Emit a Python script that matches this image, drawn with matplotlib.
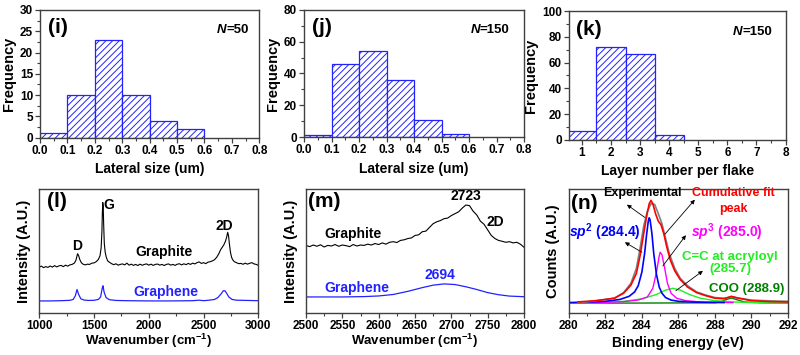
import matplotlib
matplotlib.use("Agg")
import matplotlib.pyplot as plt
from matplotlib.ticker import MultipleLocator

plt.rcParams['font.family'] = ['Liberation Sans', 'DejaVu Sans']
plt.rcParams['font.weight'] = 'bold'
plt.rcParams['hatch.linewidth'] = 0.7
plt.rcParams['mathtext.fontset'] = 'custom'
plt.rcParams['mathtext.it'] = 'Liberation Sans:italic:bold'
plt.rcParams['mathtext.rm'] = 'Liberation Sans:bold'
plt.rcParams['mathtext.bf'] = 'Liberation Sans:bold'
plt.rcParams['mathtext.default'] = 'rm'

# ---------------- data ----------------
# (i) lateral size, N=50
i_edges = [0.0, 0.1, 0.2, 0.3, 0.4, 0.5]
i_counts = [1, 10, 23, 10, 4, 2]
# (j) lateral size, N=150
j_edges = [0.0, 0.1, 0.2, 0.3, 0.4, 0.5]
j_counts = [1, 46, 54, 36, 11, 2]
# (k) layer number, N=150
k_layers = [1, 2, 3, 4]
k_counts = [7, 72, 67, 4]

# (l) Raman full range
l_graphite_x = [1000, 1020, 1040, 1060, 1080, 1100, 1120, 1140, 1160, 1180, 1200, 1220, 1240, 1260,
                1280, 1300, 1320, 1335, 1350, 1360, 1370, 1385, 1400, 1420, 1440, 1460, 1480, 1500,
                1520, 1540, 1555, 1565, 1572, 1576, 1580, 1584, 1588, 1594, 1602, 1612, 1625, 1640,
                1660, 1680, 1700, 1720, 1740, 1760, 1780, 1800, 1820, 1840, 1860, 1880, 1900, 1920,
                1940, 1960, 1980, 2000, 2020, 2040, 2060, 2080, 2100, 2120, 2140, 2160, 2180, 2200,
                2220, 2240, 2260, 2280, 2300, 2320, 2340, 2360, 2380, 2400, 2420, 2440, 2460, 2480,
                2500, 2520, 2540, 2560, 2580, 2600, 2620, 2640, 2655, 2670, 2685, 2700, 2710, 2720,
                2728, 2735, 2745, 2755, 2765, 2780, 2800, 2820, 2840, 2860, 2880, 2900, 2920, 2940,
                2960, 2980, 3000]
l_graphite_y = [0.370, 0.378, 0.366, 0.374, 0.368, 0.379, 0.370, 0.382, 0.372, 0.380, 0.384, 0.374, 0.386, 0.378,
                0.388, 0.392, 0.402, 0.425, 0.478, 0.462, 0.432, 0.405, 0.394, 0.388, 0.394, 0.392, 0.402, 0.404,
                0.414, 0.432, 0.462, 0.525, 0.650, 0.800, 0.890, 0.860, 0.720, 0.560, 0.490, 0.450, 0.420, 0.410,
                0.398, 0.390, 0.397, 0.386, 0.392, 0.396, 0.388, 0.402, 0.386, 0.394, 0.384, 0.392, 0.383, 0.394,
                0.385, 0.392, 0.396, 0.386, 0.394, 0.384, 0.392, 0.395, 0.386, 0.392, 0.383, 0.392, 0.396, 0.386,
                0.392, 0.384, 0.394, 0.397, 0.388, 0.397, 0.390, 0.400, 0.392, 0.402, 0.396, 0.406, 0.412, 0.400,
                0.406, 0.398, 0.410, 0.414, 0.420, 0.430, 0.450, 0.480, 0.510, 0.530, 0.550, 0.580, 0.610, 0.650,
                0.620, 0.560, 0.490, 0.450, 0.430, 0.414, 0.406, 0.398, 0.400, 0.393, 0.402, 0.394, 0.401, 0.406,
                0.396, 0.392, 0.384]
l_graphene_x = [1000, 1100, 1200, 1280, 1310, 1330, 1345, 1360, 1380, 1410, 1450, 1500, 1540, 1560,
                1575, 1582, 1592, 1610, 1640, 1700, 1800, 2000, 2200, 2400, 2460, 2500, 2560, 2600,
                2630, 2660, 2680, 2695, 2710, 2730, 2760, 2800, 2900, 3000]
l_graphene_y = [0.098, 0.098, 0.100, 0.103, 0.110, 0.140, 0.190, 0.150, 0.115, 0.105, 0.102, 0.103, 0.110, 0.130,
                0.200, 0.220, 0.170, 0.125, 0.108, 0.102, 0.100, 0.098, 0.098, 0.100, 0.104, 0.100, 0.105, 0.110,
                0.125, 0.155, 0.180, 0.180, 0.160, 0.130, 0.110, 0.104, 0.102, 0.100]

# (m) Raman 2D region
m_graphite_x = list(range(2500, 2801, 5))
m_graphite_y = [0.545, 0.535, 0.548, 0.538, 0.550, 0.532, 0.545, 0.540, 0.552, 0.538, 0.548, 0.543, 0.535,
                0.552, 0.540, 0.548, 0.545, 0.555, 0.548, 0.560, 0.552, 0.565, 0.555, 0.570, 0.575, 0.568,
                0.585, 0.590, 0.600, 0.605, 0.625, 0.630, 0.655, 0.660, 0.690, 0.720, 0.735, 0.745, 0.760,
                0.765, 0.785, 0.800, 0.815, 0.845, 0.870, 0.865, 0.820, 0.790, 0.740, 0.715, 0.670, 0.625,
                0.600, 0.585, 0.578, 0.570, 0.575, 0.565, 0.570, 0.555, 0.530]
m_graphene_x = [2500, 2550, 2580, 2600, 2620, 2640, 2660, 2675, 2690, 2705, 2720, 2735, 2750, 2765, 2780, 2800]
m_graphene_y = [0.130, 0.130, 0.133, 0.138, 0.150, 0.175, 0.205, 0.225, 0.235, 0.230, 0.212, 0.190, 0.165,
                0.148, 0.137, 0.132]

# (n) XPS C1s
n_exp_x = [280.5, 281.0, 281.5, 282.5, 283.0, 283.4, 283.7, 283.9, 284.1, 284.3, 284.5, 284.7, 284.9, 285.1,
           285.3, 285.5, 285.8, 286.1, 286.5, 287.0, 287.5, 288.0, 288.5, 288.9, 289.3, 290.0, 291.0, 292.0]
n_exp_y = [0.085, 0.090, 0.100, 0.120, 0.165, 0.240, 0.360, 0.520, 0.700, 0.820, 0.880, 0.875, 0.800, 0.720,
           0.600, 0.480, 0.360, 0.280, 0.220, 0.170, 0.145, 0.125, 0.120, 0.130, 0.120, 0.105, 0.098, 0.095]
n_fit_x = [280.5, 281.5, 282.5, 283.0, 283.4, 283.7, 283.9, 284.1, 284.25, 284.4, 284.5, 284.6, 284.75, 284.9,
           285.05, 285.2, 285.35, 285.55, 285.8, 286.1, 286.5, 287.0, 287.5, 288.0, 288.5, 288.9, 289.3,
           290.0, 291.0, 292.0]
n_fit_y = [0.090, 0.100, 0.120, 0.160, 0.225, 0.320, 0.460, 0.640, 0.770, 0.880, 0.907, 0.880, 0.800, 0.740,
           0.710, 0.640, 0.540, 0.430, 0.340, 0.270, 0.210, 0.165, 0.140, 0.120, 0.115, 0.135, 0.120,
           0.100, 0.093, 0.090]
n_sp2_x = [280.0, 281.0, 282.0, 282.8, 283.3, 283.6, 283.8, 284.0, 284.15, 284.25, 284.35, 284.4, 284.45,
           284.55, 284.65, 284.8, 284.95, 285.1, 285.3, 285.6, 286.0, 287.0, 288.0, 288.5]
n_sp2_y = [0.085, 0.088, 0.095, 0.110, 0.135, 0.170, 0.220, 0.330, 0.480, 0.620, 0.740, 0.767, 0.750,
           0.640, 0.480, 0.310, 0.210, 0.160, 0.125, 0.105, 0.095, 0.088, 0.086, 0.085]
n_sp3_x = [280.5, 282.0, 283.0, 283.8, 284.3, 284.6, 284.8, 284.95, 285.0, 285.1, 285.25, 285.4, 285.6,
           285.9, 286.4, 287.2, 288.0, 289.0]
n_sp3_y = [0.085, 0.087, 0.092, 0.105, 0.130, 0.200, 0.330, 0.460, 0.490, 0.470, 0.360, 0.240, 0.160,
           0.120, 0.100, 0.090, 0.087, 0.085]
n_cc_x = [280.0, 282.0, 283.0, 284.0, 284.8, 285.3, 285.7, 286.1, 286.6, 287.2, 288.0, 289.0, 290.0, 292.0]
n_cc_y = [0.080, 0.085, 0.095, 0.115, 0.150, 0.185, 0.200, 0.185, 0.150, 0.120, 0.100, 0.090, 0.085, 0.082]
n_coo_x = [280.0, 284.0, 288.0, 288.3, 288.6, 288.9, 289.2, 289.6, 290.5, 292.0]
n_coo_y = [0.080, 0.081, 0.083, 0.090, 0.108, 0.122, 0.108, 0.090, 0.083, 0.081]

# ---------------- style helpers ----------------
SPINE = '#404040'
BLUE = '#2222ff'
TICKFAMILY = ['Liberation Sans Narrow', 'Liberation Sans', 'DejaVu Sans']


def style_axes(ax, yticks=True):
    for s in ax.spines.values():
        s.set_color(SPINE)
        s.set_linewidth(1.0)
    ax.tick_params(which='major', direction='out', length=3.5, width=0.9, color=SPINE,
                   top=False, right=False, pad=1.5)
    ax.tick_params(which='minor', direction='out', length=2, width=0.8, color=SPINE,
                   top=False, right=False)
    for lab in ax.get_xticklabels() + ax.get_yticklabels():
        lab.set_fontfamily(TICKFAMILY)
        lab.set_fontweight('bold')
        lab.set_fontsize(8.5)
    if not yticks:
        ax.set_yticks([])
        ax.tick_params(axis='y', which='both', left=False, labelleft=False)


def panel_label(ax, s, x=0.035, y=0.86):
    ax.text(x, y, s, transform=ax.transAxes, fontsize=15, fontweight='bold', ha='left', va='center')


def n_label(ax, value, x=0.84, y=0.84):
    ax.text(x, y, 'N', transform=ax.transAxes, fontsize=9.5, fontweight='bold', style='italic',
            ha='right', va='center')
    ax.text(x, y, '=' + value, transform=ax.transAxes, fontsize=9.5, fontweight='bold',
            ha='left', va='center')


WAVE_LABEL = r'Wavenumber (cm$^{-1}$)'

fig = plt.figure(figsize=(8, 3.55), dpi=100)

# (i)
ax = fig.add_axes([0.050, 0.612, 0.274, 0.360])
ax.bar(i_edges, i_counts, width=0.1, align='edge', facecolor='white', edgecolor=BLUE,
       hatch='/////', linewidth=0.9)
ax.set_ylim(0, 30)
ax.set_xticks([0.0, 0.1, 0.2, 0.3, 0.4, 0.5, 0.6, 0.7, 0.8])
ax.set_xticklabels(['0.0', '0.1', '0.2', '0.3', '0.4', '0.5', '0.6', '0.7', '0.8'])
ax.xaxis.set_minor_locator(MultipleLocator(0.05))
ax.yaxis.set_major_locator(MultipleLocator(5))
ax.yaxis.set_minor_locator(MultipleLocator(2.5))
ax.set_xlim(0, 0.8)
ax.set_ylabel('Frequency', fontsize=10.5, fontweight='bold', labelpad=3)
ax.set_xlabel('Lateral size (um)', fontsize=10, fontweight='bold', labelpad=4)
panel_label(ax, '(i)')
n_label(ax, '50', x=0.85)
style_axes(ax)

# (j)
ax = fig.add_axes([0.380, 0.614, 0.275, 0.358])
ax.bar(j_edges, j_counts, width=0.1, align='edge', facecolor='white', edgecolor=BLUE,
       hatch='/////', linewidth=0.9)
ax.set_ylim(0, 80)
ax.set_xticks([0.0, 0.1, 0.2, 0.3, 0.4, 0.5, 0.6, 0.7, 0.8])
ax.set_xticklabels(['0.0', '0.1', '0.2', '0.3', '0.4', '0.5', '0.6', '0.7', '0.8'])
ax.xaxis.set_minor_locator(MultipleLocator(0.05))
ax.yaxis.set_major_locator(MultipleLocator(20))
ax.yaxis.set_minor_locator(MultipleLocator(10))
ax.set_xlim(0, 0.8)
ax.set_ylabel('Frequency', fontsize=10.5, fontweight='bold', labelpad=3)
ax.set_xlabel('Lateral size (um)', fontsize=10, fontweight='bold', labelpad=4)
panel_label(ax, '(j)')
n_label(ax, '150', x=0.80)
style_axes(ax)

# (k)
ax = fig.add_axes([0.711, 0.606, 0.271, 0.363])
ax.bar(k_layers, k_counts, width=1.0, align='center', facecolor='white', edgecolor=BLUE,
       hatch='/////', linewidth=0.9)
ax.set_xlim(0.55, 8)
ax.set_ylim(0, 100)
ax.set_xticks([1, 2, 3, 4, 5, 6, 7, 8])
ax.xaxis.set_minor_locator(MultipleLocator(0.5))
ax.yaxis.set_major_locator(MultipleLocator(20))
ax.yaxis.set_minor_locator(MultipleLocator(10))
ax.set_ylabel('Frequency', fontsize=10.5, fontweight='bold', labelpad=3)
ax.set_xlabel('Layer number per flake', fontsize=10, fontweight='bold', labelpad=4)
panel_label(ax, '(k)')
n_label(ax, '150', x=0.80)
style_axes(ax)

# (l)
ax = fig.add_axes([0.049, 0.118, 0.274, 0.350])
ax.plot(l_graphite_x, l_graphite_y, color='black', lw=0.8)
ax.plot(l_graphene_x, l_graphene_y, color=BLUE, lw=0.9)
ax.set_xlim(1000, 3000)
ax.set_ylim(0, 1)
ax.xaxis.set_major_locator(MultipleLocator(500))
ax.xaxis.set_minor_locator(MultipleLocator(250))
ax.text(1347, 0.54, 'D', fontsize=10, fontweight='bold', ha='center', va='center')
ax.text(1639, 0.87, 'G', fontsize=10, fontweight='bold', ha='center', va='center')
ax.text(2690, 0.70, '2D', fontsize=10, fontweight='bold', ha='center', va='center')
ax.text(2142, 0.49, 'Graphite', fontsize=10, fontweight='bold', ha='center', va='center')
ax.text(2160, 0.17, 'Graphene', fontsize=10, fontweight='bold', ha='center', va='center', color=BLUE)
ax.set_ylabel('Intensity (A.U.)', fontsize=10.5, fontweight='bold', labelpad=6)
ax.set_xlabel(WAVE_LABEL, fontsize=9.5, fontweight='bold', labelpad=0)
panel_label(ax, '(l)', y=0.90)
style_axes(ax, yticks=False)

# (m)
ax = fig.add_axes([0.3825, 0.118, 0.2725, 0.350])
ax.plot(m_graphite_x, m_graphite_y, color='black', lw=0.8)
ax.plot(m_graphene_x, m_graphene_y, color=BLUE, lw=0.9)
ax.set_xlim(2500, 2800)
ax.set_ylim(0, 1)
ax.xaxis.set_major_locator(MultipleLocator(50))
ax.xaxis.set_minor_locator(MultipleLocator(25))
ax.text(2720, 0.944, '2723', fontsize=10, fontweight='bold', ha='center', va='center')
ax.text(2760, 0.73, '2D', fontsize=10, fontweight='bold', ha='center', va='center')
ax.text(2565, 0.64, 'Graphite', fontsize=10, fontweight='bold', ha='center', va='center')
ax.text(2570, 0.206, 'Graphene', fontsize=10, fontweight='bold', ha='center', va='center', color=BLUE)
ax.text(2684, 0.31, '2694', fontsize=10, fontweight='bold', ha='center', va='center', color=BLUE)
ax.set_ylabel('Intensity (A.U.)', fontsize=10.5, fontweight='bold', labelpad=6)
ax.set_xlabel(WAVE_LABEL, fontsize=9.5, fontweight='bold', labelpad=0)
panel_label(ax, '(m)', x=0.01, y=0.90)
style_axes(ax, yticks=False)

# (n)
ax = fig.add_axes([0.711, 0.118, 0.274, 0.350])
ax.plot(n_coo_x, n_coo_y, color='#008000', lw=1.0)
ax.plot(n_cc_x, n_cc_y, color='#22ee22', lw=1.0)
ax.plot(n_sp3_x, n_sp3_y, color='#ff00ff', lw=1.0)
ax.plot(n_sp2_x, n_sp2_y, color='#0000ff', lw=1.2)
ax.plot(n_exp_x, n_exp_y, color='#808080', lw=1.2)
ax.plot(n_fit_x, n_fit_y, color='#ff0000', lw=1.2)
ax.set_xlim(280, 292)
ax.set_ylim(0, 1)
ax.xaxis.set_major_locator(MultipleLocator(2))
ax.xaxis.set_minor_locator(MultipleLocator(1))
arrow = dict(arrowstyle='-|>', color='black', lw=0.6, mutation_scale=6, shrinkA=0, shrinkB=0)
ax.annotate('', xy=(283.18, 0.873), xytext=(284.16, 0.77), arrowprops=arrow)
ax.annotate('', xy=(286.9, 0.913), xytext=(285.26, 0.635), arrowprops=arrow)
ax.annotate('', xy=(283.07, 0.57), xytext=(284.0, 0.49), arrowprops=arrow)
ax.annotate('', xy=(286.41, 0.627), xytext=(285.15, 0.38), arrowprops=arrow)
ax.annotate('', xy=(287.34, 0.34), xytext=(285.86, 0.18), arrowprops=arrow)
ax.text(284.05, 0.968, 'Experimental', fontsize=9, fontweight='bold', ha='center', va='center')
ax.text(288.99, 0.968, 'Cumulative fit', fontsize=9, fontweight='bold', ha='center', va='center',
        color='#ff0000')
ax.text(288.99, 0.84, 'peak', fontsize=9, fontweight='bold', ha='center', va='center', color='#ff0000')
ax.text(281.97, 0.65, r'$\mathit{sp}^{2}$ (284.4)', fontsize=10, fontweight='bold',
        ha='center', va='center', color='#0000ff')
ax.text(288.66, 0.65, r'$\mathit{sp}^{3}$ (285.0)', fontsize=10, fontweight='bold',
        ha='center', va='center', color='#ff00ff')
ax.text(288.82, 0.45, 'C=C at acryloyl', fontsize=9.5, fontweight='bold', ha='center', va='center',
        color='#22ee22')
ax.text(288.82, 0.357, '(285.7)', fontsize=9.5, fontweight='bold', ha='center', va='center',
        color='#22ee22')
ax.text(289.75, 0.198, 'COO (288.9)', fontsize=9.5, fontweight='bold', ha='center', va='center',
        color='#008000')
ax.set_ylabel('Counts (A.U.)', fontsize=10.5, fontweight='bold', labelpad=6)
ax.set_xlabel('Binding energy (eV)', fontsize=10, fontweight='bold', labelpad=3)
panel_label(ax, '(n)', x=0.01, y=0.88)
style_axes(ax, yticks=False)

fig.savefig('out.png', dpi=100)
